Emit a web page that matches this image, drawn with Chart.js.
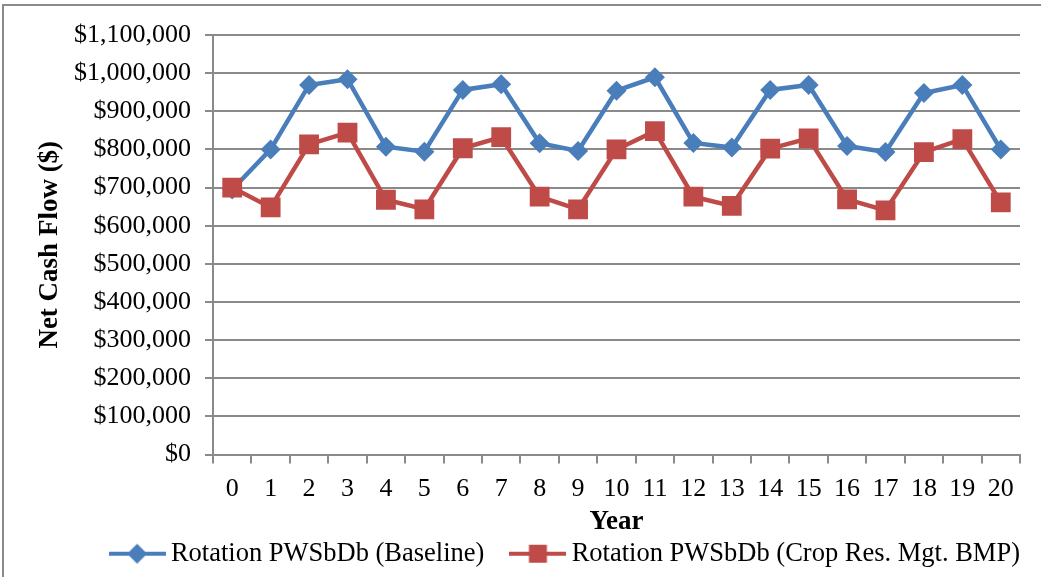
<!DOCTYPE html>
<html>
<head>
<meta charset="utf-8">
<title>Net Cash Flow</title>
<script src="https://cdn.jsdelivr.net/npm/chart.js@4.4.1/dist/chart.umd.min.js"></script>
<style>
  html, body { margin: 0; padding: 0; background: #fff; overflow: hidden; }
  #wrap { position: relative; width: 1041px; height: 577px; }
  #frame { position: absolute; left: 2px; top: 4px; width: 1100px; height: 620px; border: 2px solid #8a8a8a; box-sizing: border-box; pointer-events: none; }
  canvas { position: absolute; left: 0; top: 0; }
</style>
</head>
<body>
<div id="wrap">
  <canvas id="cashChart" width="1041" height="577"></canvas>
  <div id="frame"></div>
</div>
<script>
const years = ['0', '1', '2', '3', '4', '5', '6', '7', '8', '9', '10',
               '11', '12', '13', '14', '15', '16', '17', '18', '19', '20'];

const baseline = [695000, 800000, 969000, 984000, 807000, 794000, 956000, 971000, 816000, 796000, 954000,
                  989000, 817000, 805000, 956000, 969000, 809000, 793000, 948000, 969000, 800000];

const cropResBmp = [700000, 648000, 813000, 844000, 668000, 643000, 803000, 832000, 676000, 643000, 800000,
                    848000, 676000, 652000, 802000, 829000, 669000, 640000, 793000, 827000, 661000];

const blue = '#4a7ebb';
const red = '#be4b48';
const axisGray = '#8a8a8a';
const serif = "'Liberation Serif', 'Times New Roman', serif";

// legend swatch: a short line with the series marker in the middle
function legendSwatch(color, marker) {
    const c = document.createElement('canvas');
    c.width = 57;
    c.height = 26;
    const g = c.getContext('2d');
    g.strokeStyle = color;
    g.lineWidth = 4;
    g.beginPath();
    g.moveTo(0, 13);
    g.lineTo(57, 13);
    g.stroke();
    g.fillStyle = color;
    g.beginPath();
    if (marker === 'diamond') {
        g.moveTo(28.5, 3);
        g.lineTo(38.5, 13);
        g.lineTo(28.5, 23);
        g.lineTo(18.5, 13);
    } else {
        g.rect(19.5, 4, 18, 18);
    }
    g.closePath();
    g.fill();
    return c;
}

const blueSwatch = legendSwatch(blue, 'diamond');
const redSwatch = legendSwatch(red, 'square');

const ctx = document.getElementById('cashChart').getContext('2d');
const cashChart = new Chart(ctx, {
    type: 'line',
    data: {
        labels: years,
        datasets: [{
            label: 'Rotation PWSbDb (Baseline)',
            data: baseline,
            borderColor: blue,
            backgroundColor: blue,
            borderWidth: 4.5,
            pointStyle: 'rectRot',
            pointRadius: 10,
            pointBorderWidth: 0,
            tension: 0,
            order: 1
        }, {
            label: 'Rotation PWSbDb (Crop Res. Mgt. BMP)',
            data: cropResBmp,
            borderColor: red,
            backgroundColor: red,
            borderWidth: 4.5,
            pointStyle: 'rect',
            pointRadius: 14,
            pointBorderWidth: 0,
            tension: 0,
            order: 0
        }]
    },
    options: {
        responsive: false,
        animation: false,
        layout: { padding: { top: 35, left: 0, right: -12, bottom: 0 } },
        plugins: {
            tooltip: { enabled: false },
            legend: {
                position: 'bottom',
                align: 'end',
                labels: {
                    usePointStyle: true,
                    pointStyleWidth: 41,
                    padding: 33,
                    color: '#000',
                    font: { family: serif, size: 26.5 },
                    sort: (a, b) => a.datasetIndex - b.datasetIndex,
                    generateLabels: (chart) => {
                        const items = Chart.defaults.plugins.legend.labels.generateLabels(chart);
                        items.forEach(it => {
                            it.pointStyle = it.datasetIndex === 0 ? blueSwatch : redSwatch;
                        });
                        return items;
                    }
                }
            }
        },
        scales: {
            x: {
                offset: true,
                grid: {
                    offset: true,
                    drawOnChartArea: false,
                    drawTicks: true,
                    tickLength: 9,
                    color: axisGray,
                    lineWidth: 2
                },
                border: { color: axisGray, width: 2 },
                ticks: {
                    color: '#000',
                    padding: 10,
                    maxRotation: 0,
                    autoSkip: false,
                    font: { family: serif, size: 26 }
                },
                title: {
                    display: true,
                    text: 'Year',
                    color: '#000',
                    font: { family: serif, size: 27, weight: 'bold' },
                    padding: { top: 0, bottom: -31 }
                },
                afterFit: (scale) => { scale.height = 53; }
            },
            y: {
                min: 0,
                max: 1100000,
                ticks: {
                    stepSize: 100000,
                    color: '#000',
                    padding: 14,
                    font: { family: serif, size: 26 },
                    callback: (v) => '$' + v.toLocaleString('en-US')
                },
                grid: {
                    color: axisGray,
                    lineWidth: 2,
                    drawTicks: true,
                    tickLength: 8
                },
                border: { color: axisGray, width: 2 },
                title: {
                    display: true,
                    text: 'Net Cash Flow ($)',
                    color: '#000',
                    font: { family: serif, size: 27, weight: 'bold' },
                    padding: { top: 34, bottom: 0 }
                },
                afterFit: (scale) => { scale.width = 213; }
            },
            // empty right-hand axis that reserves the margin after the plot
            yRight: {
                position: 'right',
                display: true,
                grid: { display: false, drawTicks: false },
                border: { display: false },
                ticks: { display: false },
                afterFit: (scale) => { scale.width = 33; }
            }
        }
    }
});
</script>
</body>
</html>
